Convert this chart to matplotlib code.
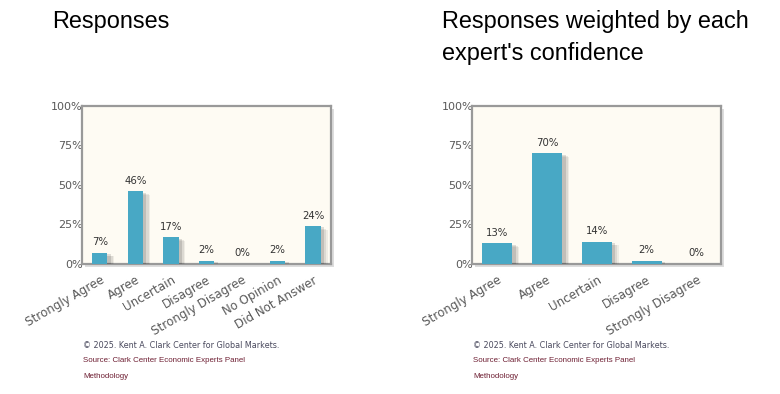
import matplotlib.pyplot as plt
import matplotlib.patheffects as pe
import matplotlib.transforms as mtransforms
from matplotlib.patches import Rectangle

# data
cats_left = ['Strongly Agree', 'Agree', 'Uncertain', 'Disagree',
             'Strongly Disagree', 'No Opinion', 'Did Not Answer']
vals_left = [7, 46, 17, 2, 0, 2, 24]

cats_right = ['Strongly Agree', 'Agree', 'Uncertain', 'Disagree',
              'Strongly Disagree']
vals_right = [13, 70, 14, 2, 0]

yticks = [0, 25, 50, 75, 100]

bar_color = '#48a8c5'
bg_color = '#fefbf3'

fig = plt.figure(figsize=(7.8, 3.94), dpi=100)

shadow = [pe.SimplePatchShadow(offset=(5, -2.5), shadow_rgbFace='#000000', alpha=0.06),
          pe.SimplePatchShadow(offset=(4, -2), shadow_rgbFace='#000000', alpha=0.08),
          pe.SimplePatchShadow(offset=(2.5, -1), shadow_rgbFace='#000000', alpha=0.12),
          pe.Normal()]


def draw_panel(left, cats, vals, width, title_lines, title_x):
    ax = fig.add_axes([left, 0.33, 0.319, 0.401])
    ax.set_facecolor(bg_color)
    x = list(range(len(cats)))
    bars = ax.bar(x, vals, width=width, color=bar_color, zorder=3)
    for b in bars:
        b.set_path_effects(shadow)
    for xi, v in zip(x, vals):
        ax.annotate(f'{v}%', (xi, v), xytext=(0, 4), textcoords='offset points',
                    ha='center', va='bottom', fontsize=7.3, color='#333333')
    ax.set_xlim(-0.5, len(cats) - 0.5)
    ax.set_ylim(0, 100)
    ax.set_yticks(yticks)
    ax.set_yticklabels([f'{t}%' for t in yticks])
    ax.set_xticks(x)
    ax.set_xticklabels(cats, rotation=30, ha='right', rotation_mode='anchor')
    ax.tick_params(length=0, labelcolor='#595959')
    ax.tick_params(axis='x', pad=7, labelsize=8.6)
    ax.tick_params(axis='y', pad=-0.5, labelsize=8)
    for s in ax.spines.values():
        s.set_color('#999999')
        s.set_linewidth(1.6)
    # frame shadow
    off = mtransforms.ScaledTranslation(3 / 100, -3 / 100, fig.dpi_scale_trans)
    fig.patches.append(Rectangle((0, 0), 1, 1, transform=ax.transAxes + off,
                                 facecolor='#dddddd', edgecolor='none', zorder=-1))
    for i, line in enumerate(title_lines):
        fig.text(title_x, 1 - (28 + 32 * i) / 394, line, fontsize=16.9,
                 family='Liberation Sans', color='#000000', va='baseline', ha='left')
    fx = left + 1 / 780
    fig.text(fx, 1 - 345 / 394, '\u00a9 2025. Kent A. Clark Center for Global Markets.',
             fontsize=5.8, color='#4a4a5e', va='center', ha='left')
    fig.text(fx, 1 - 360 / 394, 'Source: Clark Center Economic Experts Panel',
             fontsize=5.7, color='#6e1f33', family='Liberation Sans', va='center', ha='left')
    fig.text(fx, 1 - 377 / 394, 'Methodology',
             fontsize=5.7, color='#6e1f33', family='Liberation Sans', va='center', ha='left')
    return ax


draw_panel(82 / 780, cats_left, vals_left, 0.43, ['Responses'], 52 / 780)
draw_panel(472.5 / 780, cats_right, vals_right, 0.6,
           ['Responses weighted by each', "expert's confidence"], 442 / 780)

fig.savefig('out.png', dpi=100, facecolor='white')
